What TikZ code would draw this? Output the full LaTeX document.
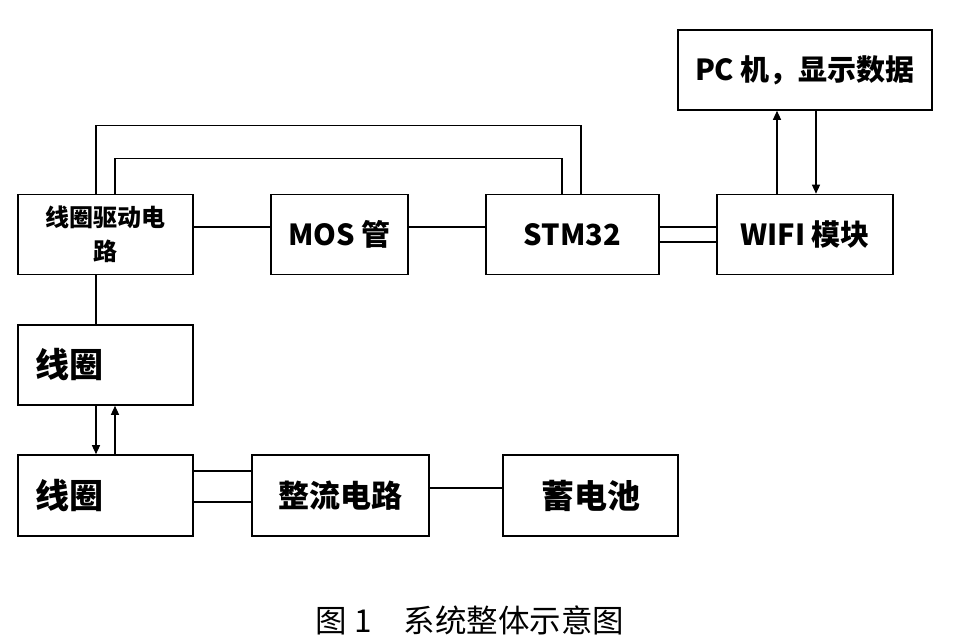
\documentclass[tikz,border=0pt]{standalone}
\usepackage{fontspec}
\setmainfont{Noto Sans CJK SC}
\usetikzlibrary{arrows.meta}
\tikzset{
  blk/.style={draw, line width=1.6pt, minimum height=80pt, inner sep=0pt, font=\bfseries\fontsize{29}{32}\selectfont},
  conn/.style={line width=1.3pt},
  arr/.style={conn, -{Triangle[length=9pt,width=8pt]}}
}
\begin{document}
\begin{tikzpicture}[x=1pt,y=-1pt]
\useasboundingbox[fill=white] (0,0) rectangle (954,637);
\node[blk, minimum width=175pt, align=center, font=\bfseries\fontsize{24}{34}\selectfont] (drv) at (105.5,234.5) {线圈驱动电\\路};
\node[blk, minimum width=137pt] (mos) at (339.5,234.5) {MOS 管};
\node[blk, minimum width=173pt] (stm) at (572.5,234.5) {STM32};
\node[blk, minimum width=176pt] (wifi) at (805,234.5) {WIFI 模块};
\node[blk, minimum width=254pt] (pc) at (805,70) {PC 机，显示数据};
\node[blk, minimum width=175pt, text width=141pt, align=left, inner xsep=17pt, font=\bfseries\fontsize{34}{38}\selectfont] (coil1) at (105.5,365) {线圈};
\node[blk, minimum width=175pt, minimum height=81pt, text width=141pt, align=left, inner xsep=17pt, font=\bfseries\fontsize{34}{38}\selectfont] (coil2) at (105.5,495.5) {线圈};
\node[blk, minimum width=177pt, minimum height=81pt, font=\bfseries\fontsize{31}{34}\selectfont] (rect) at (340.5,495.5) {整流电路};
\node[blk, minimum width=175pt, minimum height=81pt, font=\bfseries\fontsize{33}{36}\selectfont] (bat) at (590.5,495.5) {蓄电池};
\node[font=\fontsize{31.5}{34}\selectfont] (cap) at (470,620) {图 1\quad 系统整体示意图};
% top loops
\draw[conn] ([xshift=-9.5pt]drv.north) -- ++(0,-68) -| ([xshift=8.5pt]stm.north);
\draw[conn] ([xshift=9.5pt]drv.north) -- ++(0,-35) -| ([xshift=-10.5pt]stm.north);
% horizontal chain
\draw[conn] ([yshift=7.5pt]drv.east) -- ([yshift=7.5pt]drv.east -| mos.west);
\draw[conn] ([yshift=7.5pt]mos.east) -- ([yshift=7.5pt]mos.east -| stm.west);
\draw[conn] ([yshift=7.5pt]stm.east) -- ([yshift=7.5pt]stm.east -| wifi.west);
\draw[conn] ([yshift=-7.5pt]stm.east) -- ([yshift=-7.5pt]stm.east -| wifi.west);
% wifi <-> pc
\draw[arr] ([xshift=-28pt]wifi.north) -- ([xshift=-28pt]wifi.north |- pc.south);
\draw[arr] ([xshift=11pt]wifi.north |- pc.south) -- ([xshift=11pt]wifi.north);
% drive -> coil
\draw[conn] ([xshift=-9.5pt]drv.south) -- ([xshift=-9.5pt]coil1.north);
\draw[arr] ([xshift=-9.5pt]coil1.south) -- ([xshift=-9.5pt]coil2.north);
\draw[arr] ([xshift=9.5pt]coil2.north) -- ([xshift=9.5pt]coil1.south);
% coil2 -> rectifier -> battery
\draw[conn] ([yshift=24.5pt]coil2.east) -- ([yshift=24.5pt]coil2.east -| rect.west);
\draw[conn] ([yshift=-6.5pt]coil2.east) -- ([yshift=-6.5pt]coil2.east -| rect.west);
\draw[conn] ([yshift=7.5pt]rect.east) -- ([yshift=7.5pt]rect.east -| bat.west);
\end{tikzpicture}
\end{document}
